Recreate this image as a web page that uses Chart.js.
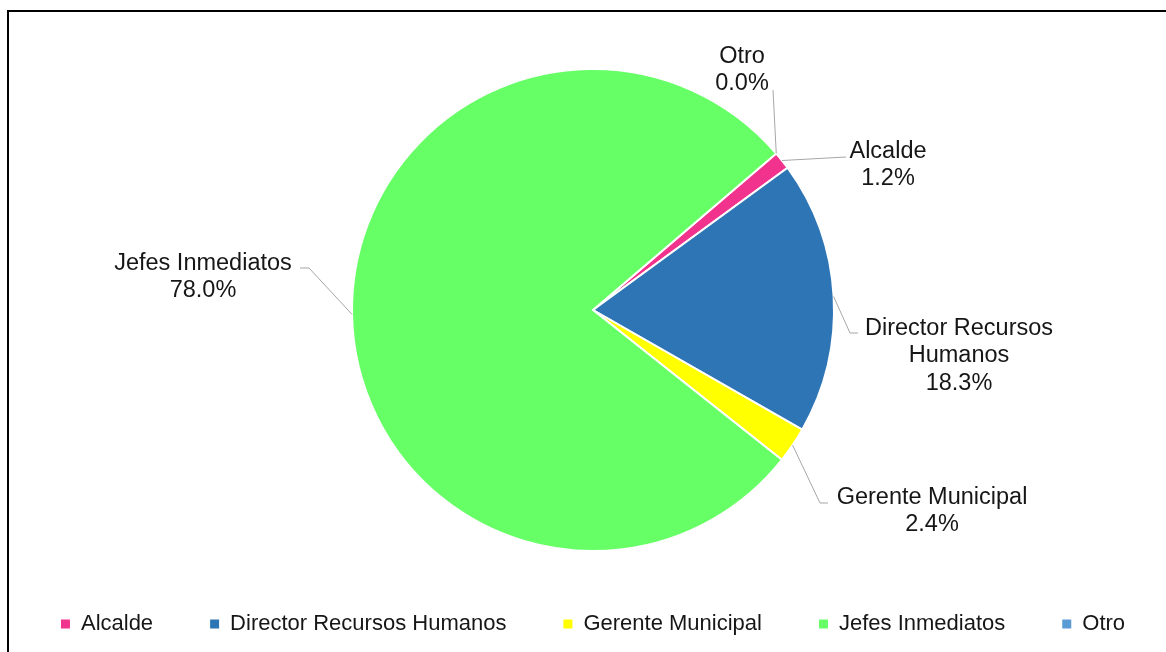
<!DOCTYPE html>
<html>
<head>
<meta charset="utf-8">
<title>Jefes Inmediatos</title>
<script src="https://cdn.jsdelivr.net/npm/chart.js@4.4.1/dist/chart.umd.min.js"></script>
<style>
  html, body { margin: 0; padding: 0; background: #ffffff; }
  #wrap { position: relative; width: 1166px; height: 652px; overflow: hidden; }
  #frame {
    position: absolute; left: 7px; top: 10px; width: 1200px; height: 700px;
    border-left: 2px solid #000; border-top: 2px solid #000; pointer-events: none;
  }
  canvas { position: absolute; left: 0; top: 0; }
</style>
</head>
<body>
<div id="wrap">
  <canvas id="chart" width="1166" height="652"></canvas>
  <div id="frame"></div>
</div>
<script>
// Categories and their shares (%)
const categories = ['Alcalde', 'Director Recursos Humanos', 'Gerente Municipal', 'Jefes Inmediatos', 'Otro'];
const shares = [1.2, 18.3, 2.4, 78.0, 0.0];
const sliceColors = ['#F2338E', '#2E75B6', '#FFFF00', '#66FF66', '#5B9BD5'];
// Wrapped text of each outside label (the percentage is appended below)
const labelText = [['Alcalde'], ['Director Recursos', 'Humanos'], ['Gerente Municipal'], ['Jefes Inmediatos'], ['Otro']];

// Outside label placement, in pixels from the pie centre:
// text = centre of the label block, path = leader line points after the slice anchor
const labelPlacement = [
  { text: [295, -145], path: [[253, -153]] },
  { text: [366, 46],   path: [[257, 23], [265, 23]] },
  { text: [339, 201],  path: [[227, 193], [235, 193]] },
  { text: [-390, -33], path: [[-284, -42], [-293, -42]] },
  { text: [149, -240], path: [[180, -220]] }
];

const FONT = '"Liberation Sans", Arial, sans-serif';
const TEXT_COLOR = '#161616';

// Plot area inset on the left so the pie sits slightly right of the canvas middle
const plotInset = {
  id: 'plotInset',
  afterLayout(chart) {
    const a = chart.chartArea;
    a.left += 20;
    a.width = a.right - a.left;
  }
};

const outsideLabels = {
  id: 'outsideLabels',
  afterDatasetsDraw(chart) {
    const ctx = chart.ctx;
    const meta = chart.getDatasetMeta(0);
    ctx.save();
    meta.data.forEach((arc, i) => {
      const p = arc.getProps(['x', 'y', 'startAngle', 'endAngle', 'outerRadius'], true);
      const mid = (p.startAngle + p.endAngle) / 2;
      const ax = p.x + Math.cos(mid) * p.outerRadius;
      const ay = p.y + Math.sin(mid) * p.outerRadius;
      const place = labelPlacement[i];
      // leader line
      ctx.beginPath();
      ctx.strokeStyle = '#A6A6A6';
      ctx.lineWidth = 1;
      ctx.moveTo(ax, ay);
      place.path.forEach(pt => ctx.lineTo(p.x + pt[0], p.y + pt[1]));
      ctx.stroke();
      // label text
      const lines = labelText[i].concat([shares[i].toFixed(1) + '%']);
      const lh = 27.5;
      const cx = p.x + place.text[0];
      const cy = p.y + place.text[1];
      ctx.font = '23.5px ' + FONT;
      ctx.fillStyle = TEXT_COLOR;
      ctx.textAlign = 'center';
      ctx.textBaseline = 'middle';
      lines.forEach((ln, k) => {
        ctx.fillText(ln, cx, cy + (k - (lines.length - 1) / 2) * lh);
      });
    });
    ctx.restore();
  }
};

new Chart(document.getElementById('chart'), {
  type: 'pie',
  data: {
    labels: categories,
    datasets: [{
      data: shares,
      backgroundColor: sliceColors,
      borderColor: '#ffffff',
      borderWidth: 2,
      borderJoinStyle: 'miter',
      radius: 241
    }]
  },
  options: {
    responsive: false,
    animation: false,
    devicePixelRatio: 1,
    rotation: 49.5,
    // the legend row is allowed to reach slightly past both canvas edges so it stays on one line
    layout: { padding: { top: 64, bottom: 7, left: -10, right: -30 } },
    plugins: {
      tooltip: { enabled: false },
      legend: {
        position: 'bottom',
        align: 'center',
        labels: {
          font: { family: FONT, size: 22 },
          color: TEXT_COLOR,
          boxWidth: 9,
          boxHeight: 9,
          padding: 57,
          generateLabels(chart) {
            const items = Chart.controllers.pie.overrides.plugins.legend.labels.generateLabels(chart);
            items.forEach(it => { it.lineWidth = 0; it.strokeStyle = 'rgba(0,0,0,0)'; });
            return items;
          }
        }
      }
    }
  },
  plugins: [plotInset, outsideLabels]
});
</script>
</body>
</html>
